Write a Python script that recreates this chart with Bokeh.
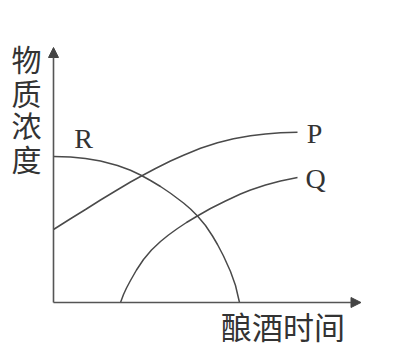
from bokeh.plotting import figure
from bokeh.models import Range1d, Arrow, NormalHead
from bokeh.core.properties import value
from bokeh.embed import file_html
from bokeh.resources import INLINE

# Curve data (time, concentration) in arbitrary units
r_time = [0.0, 0.68, 1.28, 1.88, 2.56, 3.08, 3.48, 3.88, 4.28, 4.68, 5.2, 5.48,
          5.76, 6.08, 6.36, 6.56, 6.8, 7.08, 7.28, 7.44]
r_conc = [5.84, 5.82, 5.76, 5.66, 5.48, 5.29, 5.10, 4.88, 4.64, 4.37, 3.98, 3.74,
          3.46, 3.08, 2.66, 2.32, 1.86, 1.24, 0.68, 0.0]

p_time = [0.0, 0.68, 1.28, 1.88, 2.56, 3.08, 3.48, 4.08, 4.68, 5.2, 5.88, 6.56,
          7.2, 7.88, 8.48, 9.08, 9.76]
p_conc = [2.92, 3.35, 3.72, 4.10, 4.51, 4.82, 5.04, 5.36, 5.66, 5.89, 6.17, 6.39,
          6.55, 6.67, 6.74, 6.79, 6.81]

q_time = [2.68, 2.8, 2.92, 3.08, 3.32, 3.6, 3.92, 4.28, 4.6, 4.96, 5.32, 5.72,
          6.28, 6.88, 7.48, 7.88, 8.48, 9.08, 9.76]
q_conc = [0.0, 0.32, 0.58, 0.88, 1.3, 1.72, 2.1, 2.44, 2.7, 2.96, 3.2, 3.44,
          3.76, 4.06, 4.34, 4.5, 4.7, 4.86, 5.0]

curve_labels = ["R", "P", "Q"]
label_time = [1.2, 10.44, 10.48]
label_conc = [6.56, 6.76, 4.96]

y_title_chars = ["物", "质", "浓", "度"]
y_title_conc = [9.78, 8.44, 7.14, 5.78]
x_title = "酿酒时间"

x_axis_end = 12.3
y_axis_end = 10.2

ink = "#4a4a4a"

p = figure(width=409, height=351, output_backend="svg", toolbar_location=None,
           x_range=Range1d(-2.12, 14.24), y_range=Range1d(-1.96, 12.08),
           min_border=0, outline_line_color=None)
p.axis.visible = False
p.grid.visible = False
p.background_fill_color = "white"
p.border_fill_color = "white"

# axes with arrows
p.add_layout(Arrow(x_start=0, y_start=0, x_end=x_axis_end, y_end=0,
                   line_color="#555555", line_width=1.6,
                   end=NormalHead(size=10, fill_color="#444444", line_color="#444444")))
p.add_layout(Arrow(x_start=0, y_start=0, x_end=0, y_end=y_axis_end,
                   line_color="#555555", line_width=1.6,
                   end=NormalHead(size=10, fill_color="#444444", line_color="#444444")))

p.line(r_time, r_conc, line_color=ink, line_width=1.5)
p.line(p_time, p_conc, line_color=ink, line_width=1.5)
p.line(q_time, q_conc, line_color=ink, line_width=1.5)

p.text(x=label_time, y=label_conc, text=curve_labels,
       text_font=value("Liberation Serif"), text_font_size="28px",
       text_align="center", text_baseline="middle", text_color="#333333")

p.text(x=[-1.08] * 4, y=y_title_conc, text=y_title_chars,
       text_font=value("Noto Sans CJK SC"), text_font_size="30px",
       text_align="center", text_baseline="middle", text_color="#333333")

p.text(x=[9.18], y=[-0.9], text=[x_title],
       text_font=value("Noto Sans CJK SC"), text_font_size="31px",
       text_align="center", text_baseline="middle", text_color="#333333")

open("out.html", "w").write(file_html(p, INLINE))
